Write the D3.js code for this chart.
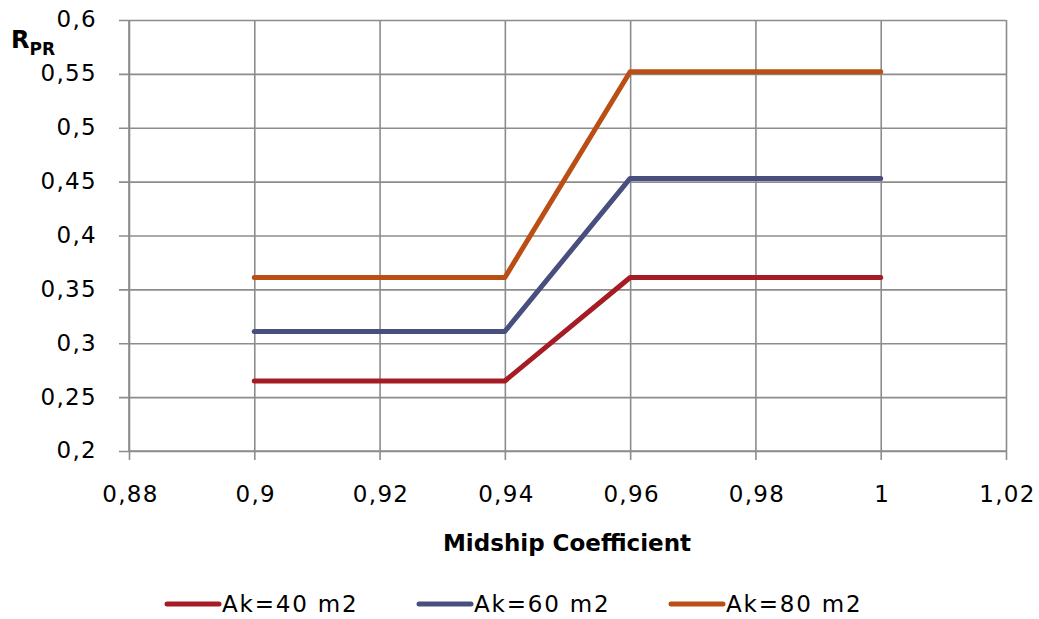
<!DOCTYPE html>
<html>
<head>
<meta charset="utf-8">
<script src="https://cdn.jsdelivr.net/npm/d3@7"></script>
<style>
  html, body { margin: 0; padding: 0; background: #fff; }
  svg { display: block; }
  text { font-family: "DejaVu Sans", Verdana, sans-serif; fill: #000; }
</style>
</head>
<body>
<svg id="chart" width="1039" height="619"></svg>
<script>
// Midship coefficient on the x axis
const midship = [0.90, 0.92, 0.94, 0.96, 0.98, 1.00];
// R_PR for each lateral area Ak
const ak40 = [0.265, 0.265, 0.265, 0.361, 0.361, 0.361];
const ak60 = [0.311, 0.311, 0.311, 0.453, 0.453, 0.453];
const ak80 = [0.361, 0.361, 0.361, 0.552, 0.552, 0.552];
const seriesNames = ["Ak=40 m2", "Ak=60 m2", "Ak=80 m2"];
const seriesColors = ["#A51C24", "#484E7D", "#BA4E14"];
const xTicks = [0.88, 0.90, 0.92, 0.94, 0.96, 0.98, 1.00, 1.02];
const yTicks = [0.2, 0.25, 0.3, 0.35, 0.4, 0.45, 0.5, 0.55, 0.6];

const svg = d3.select("#chart");
const plot = { left: 129, right: 1006, top: 20, bottom: 451 };

const x = d3.scaleLinear().domain([0.88, 1.02]).range([plot.left, plot.right]);
const y = d3.scaleLinear().domain([0.2, 0.6]).range([plot.bottom, plot.top]);

const fmt = v => d3.format("~g")(+v.toFixed(3)).replace(".", ",");
const gridColor = "#8c8c8c";
const plotH = plot.bottom - plot.top, plotW = plot.right - plot.left;

// vertical gridlines with ticks below the axis
const xAxis = d3.axisBottom(x).tickValues(xTicks).tickFormat(fmt)
  .tickSizeInner(-plotH).tickSizeOuter(0).tickPadding(0);
const gx = svg.append("g").attr("transform", `translate(0,${plot.bottom})`).call(xAxis);
gx.select(".domain").remove();
gx.selectAll(".tick line").attr("stroke", gridColor).attr("stroke-width", 1.6)
  .attr("y1", 9).attr("y2", -plotH);
gx.selectAll(".tick text").attr("y", 51).attr("dy", 0).attr("dx", 1)
  .attr("font-size", 23).attr("letter-spacing", 1.3)
  .style("font-family", "'DejaVu Sans', sans-serif");

// horizontal gridlines with ticks left of the axis
const yAxis = d3.axisLeft(y).tickValues(yTicks).tickFormat(fmt)
  .tickSizeInner(-plotW).tickSizeOuter(0).tickPadding(0);
const gy = svg.append("g").attr("transform", `translate(${plot.left},0)`).call(yAxis);
gy.select(".domain").remove();
gy.selectAll(".tick line").attr("stroke", gridColor).attr("stroke-width", 1.6)
  .attr("x1", -10).attr("x2", plotW);
gy.selectAll(".tick text").attr("x", -32).attr("dy", "0.3em")
  .attr("font-size", 23).attr("letter-spacing", 1.3)
  .style("font-family", "'DejaVu Sans', sans-serif");

// axis frame lines
svg.append("line").attr("x1", plot.left).attr("x2", plot.right).attr("y1", plot.bottom).attr("y2", plot.bottom)
  .attr("stroke", gridColor).attr("stroke-width", 1.6);
svg.append("line").attr("x1", plot.left).attr("x2", plot.left).attr("y1", plot.top).attr("y2", plot.bottom)
  .attr("stroke", gridColor).attr("stroke-width", 1.6);

// series lines
const line = d3.line().x((d, i) => x(midship[i])).y(d => y(d));
[ak40, ak60, ak80].forEach((vals, k) => {
  svg.append("path").datum(vals).attr("d", line)
    .attr("fill", "none").attr("stroke", seriesColors[k])
    .attr("stroke-width", 5).attr("stroke-linecap", "round").attr("stroke-linejoin", "round");
});

// axis titles
svg.append("text").attr("x", 567).attr("y", 551).attr("text-anchor", "middle")
  .attr("font-size", 23).attr("font-weight", "bold").text("Midship Coefficient");

const rpr = svg.append("text").attr("x", 11).attr("y", 48).attr("font-weight", "bold");
rpr.append("tspan").attr("font-size", 24).text("R");
rpr.append("tspan").attr("font-size", 17).attr("dy", 7).text("PR");

// legend
const legendX = [167, 419, 671];
seriesNames.forEach((name, k) => {
  const g = svg.append("g").attr("transform", `translate(${legendX[k]},604)`);
  g.append("line").attr("x1", 0).attr("x2", 52).attr("y1", 0).attr("y2", 0)
    .attr("stroke", seriesColors[k]).attr("stroke-width", 5).attr("stroke-linecap", "round");
  g.append("text").attr("x", 55).attr("y", 0).attr("dy", "0.36em")
    .attr("font-size", 23).attr("letter-spacing", 1.8).text(name);
});
</script>
</body>
</html>
